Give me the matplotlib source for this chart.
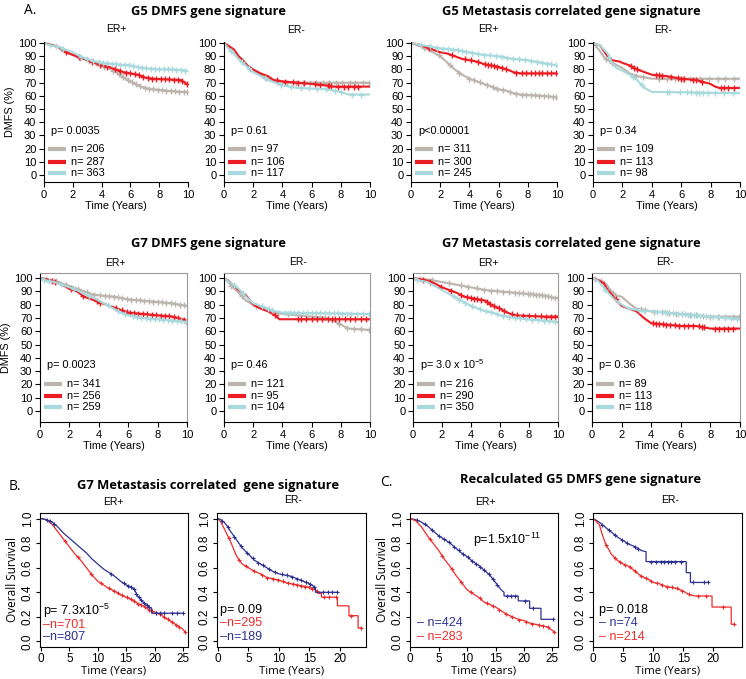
import numpy as np
import matplotlib
matplotlib.use("Agg")
from matplotlib import pyplot as plt

plt.rcParams['font.family'] = ['Liberation Sans', 'DejaVu Sans']
plt.rcParams['mathtext.default'] = 'regular'

GRAY = "#bcb5ae"
RED = "#ec1c24"
LBLUE = "#a8d9dd"
NAVY = "#2e3192"
RED3 = "#ee2b2b"

# ---- A. G5 DMFS, ER+ ----
a1_gray_t = [0, 0.5, 1, 1.5, 2, 2.5, 3, 3.5, 4, 4.5, 5, 5.5, 6, 6.5, 7, 7.5, 8.5, 9.5, 10]
a1_gray_s = [100, 99, 97, 94, 91, 89, 87, 85, 83, 81, 78, 74, 71, 68, 66, 65, 64, 63, 63]
a1_gray_c = [1.2, 2.5, 3.1, 3.6, 4.2, 4.8, 5.2, 5.5, 5.8, 6.1, 6.4, 6.7, 7.0, 7.3, 7.6, 7.9, 8.2, 8.5, 8.8, 9.1, 9.4, 9.7, 9.9]
a1_red_t = [0, 1, 1.5, 2, 2.5, 3, 3.5, 4, 4.5, 5, 5.5, 6, 6.5, 7, 7.5, 9.5, 9.9, 10]
a1_red_s = [100, 97, 93, 91, 89, 87, 85, 83, 82, 80, 78, 77, 76, 74, 73, 72, 69, 69]
a1_red_c = [1.5, 2.4, 3.3, 3.9, 4.4, 4.9, 5.3, 5.7, 6.0, 6.3, 6.6, 6.9, 7.2, 7.5, 7.8, 8.1, 8.4, 8.7, 9.0, 9.3, 9.6, 9.9]
a1_blue_t = [0, 0.5, 1, 1.5, 2, 2.5, 3, 3.5, 4, 5, 6, 7, 8, 9, 10]
a1_blue_s = [100, 98, 97, 95, 93, 90, 88, 86, 85, 84, 83, 81, 80, 80, 79]
a1_blue_c = [0.4, 0.8, 1.3, 2.6, 3.0, 3.4, 3.8, 4.1, 4.4, 4.7, 5.0, 5.3, 5.6, 5.9, 6.2, 6.5, 6.8, 7.1, 7.4, 7.7, 8.0, 8.3, 8.6, 8.9, 9.2, 9.5, 9.8]

# ---- A. G5 DMFS, ER- ----
a2_gray_t = [0, 0.3, 0.7, 1, 1.5, 2, 2.5, 3, 3.5, 4, 10]
a2_gray_s = [100, 97, 92, 88, 83, 79, 76, 73, 71, 70, 70]
a2_gray_c = [1.8, 2.9, 3.6, 4.3, 4.9, 5.4, 5.9, 6.3, 6.8, 7.2, 7.7, 8.1, 8.6, 9.0, 9.5, 9.9]
a2_red_t = [0, 0.3, 0.7, 1, 1.3, 1.6, 2, 2.5, 3, 3.4, 4, 5, 6, 7, 7.5, 10]
a2_red_s = [100, 98, 95, 90, 87, 83, 80, 77, 75, 72, 71, 70, 69, 68, 67, 67]
a2_red_c = [3.6, 4.2, 4.7, 5.1, 5.5, 6.2, 6.6, 7.1, 7.2, 7.3, 7.8, 8.2, 8.5, 8.9, 9.2]
a2_blue_t = [0, 0.3, 0.7, 1, 1.5, 2, 2.5, 3, 3.5, 4, 5, 7, 8, 8.5, 10]
a2_blue_s = [100, 96, 92, 88, 83, 78, 75, 72, 70, 68, 66, 65, 63, 61, 61]
a2_blue_c = [0.5, 1.2, 1.7, 2.8, 3.9, 4.6, 5.3, 5.8, 6.4, 7.0, 7.6, 8.0, 8.8, 9.4]

# ---- A. G5 Metastasis, ER+ ----
a3_gray_t = [0, 0.5, 1, 1.5, 2, 2.5, 3, 3.5, 4, 4.5, 5, 5.5, 6, 6.5, 7, 7.5, 9, 10]
a3_gray_s = [100, 98, 96, 93, 90, 85, 80, 76, 73, 71, 69, 67, 65, 64, 62, 61, 60, 59]
a3_gray_c = [0.9, 1.9, 2.7, 3.3, 4.0, 4.3, 4.7, 5.2, 5.6, 5.9, 6.3, 6.8, 7.2, 7.6, 7.9, 8.2, 8.5, 8.8, 9.1, 9.4, 9.7, 9.9]
a3_red_t = [0, 0.5, 1, 1.5, 2, 2.5, 3, 3.5, 4, 4.5, 5, 5.5, 6, 6.8, 7, 7.5, 10]
a3_red_s = [100, 99, 97, 95, 93, 92, 90, 88, 87, 86, 84, 83, 82, 79, 78, 77, 77]
a3_red_c = [1.2, 2.8, 3.7, 4.1, 4.6, 5.1, 5.3, 5.5, 5.7, 5.9, 6.2, 6.5, 7.2, 7.6, 7.9, 8.2, 8.5, 8.8, 9.0, 9.3, 9.6, 9.9]
a3_blue_t = [0, 0.5, 1, 1.5, 2, 3, 4, 5, 6, 7, 8, 9, 10]
a3_blue_s = [100, 99, 98, 97, 96, 95, 93, 91, 90, 88, 87, 85, 83]
a3_blue_c = [0.7, 1.3, 1.8, 2.2, 2.5, 2.9, 3.2, 3.5, 3.8, 4.2, 4.6, 5.0, 5.4, 5.8, 6.2, 6.6, 7.0, 7.4, 7.8, 8.2, 8.6, 9.0, 9.3, 9.6, 9.9]

# ---- A. G5 Metastasis, ER- ----
a4_gray_t = [0, 0.4, 0.7, 1, 1.5, 2, 2.5, 3, 3.5, 4, 10]
a4_gray_s = [100, 95, 90, 87, 84, 81, 77, 75, 74, 73, 73]
a4_gray_c = [0.9, 1.3, 2.9, 3.4, 4.5, 5.0, 5.6, 6.1, 6.6, 7.3, 7.9, 8.5, 9.0, 9.6]
a4_red_t = [0, 0.5, 0.8, 1, 1.3, 1.8, 2, 2.5, 3, 3.5, 4, 5, 6, 7, 8, 8.3, 8.6, 10]
a4_red_s = [100, 98, 93, 90, 87, 86, 85, 83, 80, 78, 76, 75, 73, 72, 69, 67, 66, 66]
a4_red_c = [2.6, 2.8, 3.0, 4.3, 4.5, 4.7, 5.3, 5.8, 6.0, 6.2, 6.8, 7.0, 7.4, 8.7, 8.9, 9.2, 9.6]
a4_blue_t = [0, 0.5, 1, 1.3, 1.6, 2, 2.5, 3, 3.5, 4, 10]
a4_blue_s = [100, 98, 92, 85, 81, 79, 76, 72, 66, 63, 62]
a4_blue_c = [1.1, 2.7, 3.3, 5.0, 5.2, 5.9, 6.4, 6.7, 7.0, 7.2, 7.5, 7.8, 8.3, 8.9, 9.5]

# ---- A. G7 DMFS, ER+ ----
b1_gray_t = [0, 0.5, 1, 1.5, 2, 2.5, 3, 3.5, 4, 5, 6, 7, 8, 9, 10]
b1_gray_s = [100, 99, 98, 96, 94, 92, 90, 88, 87, 86, 84, 83, 82, 81, 79]
b1_gray_c = [0.4, 1.1, 1.8, 2.6, 3.2, 3.7, 4.1, 4.4, 4.7, 5.0, 5.3, 5.6, 5.9, 6.2, 6.5, 6.8, 7.1, 7.4, 7.7, 8.0, 8.3, 8.6, 8.9, 9.2, 9.5, 9.8]
b1_red_t = [0, 0.5, 1, 1.5, 2, 2.5, 3, 3.5, 4, 4.5, 5, 5.5, 6, 7, 8, 9, 9.7, 10]
b1_red_s = [100, 99, 97, 95, 92, 90, 86, 84, 82, 80, 78, 76, 74, 73, 72, 71, 69, 68]
b1_red_c = [0.8, 1.0, 2.1, 2.9, 3.9, 4.1, 5.2, 5.6, 5.9, 6.1, 6.4, 6.7, 7.0, 7.3, 7.6, 7.9, 8.2, 8.5, 8.8, 9.1, 9.4, 9.8]
b1_blue_t = [0, 0.5, 1, 1.5, 2, 2.5, 3, 3.5, 4, 4.5, 5, 5.5, 6, 7, 8, 9, 10]
b1_blue_s = [100, 98, 97, 95, 93, 91, 88, 86, 83, 80, 77, 74, 72, 70, 69, 68, 67]
b1_blue_c = [0.3, 0.6, 1.4, 2.3, 3.3, 4.6, 5.3, 5.8, 6.3, 6.6, 6.9, 7.2, 7.5, 7.8, 8.1, 8.4, 8.7, 9.0, 9.3, 9.6, 9.9]

# ---- A. G7 DMFS, ER- ----
b2_gray_t = [0, 0.3, 0.6, 1, 1.5, 2, 2.5, 3, 3.5, 4, 5, 6, 7, 7.5, 8, 8.5, 10]
b2_gray_s = [100, 97, 93, 89, 83, 80, 78, 76, 74, 73, 72, 71, 70, 68, 65, 62, 61]
b2_gray_c = [0.5, 1.2, 2.2, 3.1, 3.7, 4.4, 5.1, 5.7, 6.3, 6.9, 7.4, 7.9, 8.4, 8.9, 9.4, 9.9]
b2_red_t = [0, 0.3, 0.7, 1, 1.5, 1.8, 2, 2.5, 3, 3.5, 3.8, 10]
b2_red_s = [100, 98, 94, 91, 87, 83, 80, 77, 75, 72, 69, 69]
b2_red_c = [3.5, 5.1, 5.3, 5.6, 6.0, 6.4, 6.7, 7.1, 7.4, 7.6, 7.9, 8.3, 8.6, 9.0, 9.4, 9.7]
b2_blue_t = [0, 0.5, 1, 1.5, 2, 2.5, 3, 3.5, 4, 10]
b2_blue_s = [100, 96, 92, 86, 81, 79, 77, 75, 74, 73]
b2_blue_c = [0.7, 1.3, 2.6, 3.0, 3.3, 4.2, 4.5, 4.8, 5.1, 5.4, 5.7, 6.0, 6.3, 6.6, 6.9, 7.2, 7.5, 7.8, 8.1, 8.4, 8.7, 9.1, 9.5, 9.9]

# ---- A. G7 Metastasis, ER+ ----
b3_gray_t = [0, 1, 2, 3, 4, 5, 6, 7, 8, 9, 9.8, 10]
b3_gray_s = [100, 99, 97, 95, 93, 91, 90, 89, 88, 87, 85, 85]
b3_gray_c = [0.5, 1.3, 2.5, 3.3, 3.8, 4.4, 4.9, 5.4, 5.8, 6.2, 6.6, 7.0, 7.3, 7.6, 7.9, 8.1, 8.3, 8.5, 8.7, 8.9, 9.1, 9.3, 9.5, 9.8]
b3_red_t = [0, 0.5, 1, 1.5, 2, 2.5, 3, 3.5, 4, 4.5, 5, 5.5, 6, 6.5, 7, 9, 10]
b3_red_s = [100, 99, 98, 96, 93, 91, 89, 86, 85, 84, 83, 79, 77, 74, 72, 71, 71]
b3_red_c = [0.7, 1.2, 1.9, 2.6, 3.3, 3.7, 4.0, 4.2, 4.4, 4.7, 5.1, 5.3, 5.6, 5.9, 6.3, 6.8, 7.2, 7.6, 8.0, 8.4, 8.8, 9.2, 9.5, 9.8]
b3_blue_t = [0, 0.5, 1, 1.5, 2, 2.5, 3, 3.5, 4, 4.5, 5, 5.5, 6, 7, 8, 9, 10]
b3_blue_s = [100, 98, 97, 94, 91, 88, 85, 82, 79, 77, 75, 74, 72, 70, 69, 68, 67]
b3_blue_c = [0.3, 2.8, 3.2, 3.6, 4.1, 4.6, 5.0, 5.4, 5.8, 6.2, 6.6, 7.0, 7.4, 7.8, 8.2, 8.6, 9.0, 9.4, 9.8]

# ---- A. G7 Metastasis, ER- ----
b4_gray_t = [0, 0.3, 0.8, 1, 1.3, 1.6, 2, 2.5, 3, 4, 5, 6, 7, 8, 10]
b4_gray_s = [100, 99, 97, 95, 90, 87, 86, 81, 77, 75, 74, 73, 72, 71, 71]
b4_gray_c = [0.2, 0.6, 1.4, 3.3, 3.6, 4.2, 4.7, 5.2, 5.7, 6.1, 6.6, 7.0, 7.5, 8.0, 8.5, 9.0, 9.5, 9.9]
b4_red_t = [0, 0.5, 0.8, 1, 1.3, 1.6, 2, 2.5, 3, 3.5, 4, 5, 6, 7, 8, 10]
b4_red_s = [100, 98, 96, 92, 88, 84, 79, 77, 75, 70, 66, 65, 64, 64, 62, 62]
b4_red_c = [1.6, 4.1, 4.3, 4.5, 4.8, 5.0, 5.3, 5.6, 5.9, 6.2, 6.5, 6.8, 7.2, 7.4, 7.6, 8.3, 8.6, 8.9, 9.2, 9.5]
b4_blue_t = [0, 0.4, 0.7, 1, 1.5, 2, 2.5, 3, 4, 5, 6, 7, 8, 9, 10]
b4_blue_s = [100, 98, 94, 90, 84, 80, 77, 76, 75, 74, 73, 72, 71, 70, 69]
b4_blue_c = [0.9, 3.2, 3.5, 4.4, 4.9, 5.1, 5.5, 5.8, 6.1, 6.3, 6.5, 6.7, 6.9, 7.1, 7.3, 7.7, 8.2, 8.6, 9.0, 9.4, 9.8]

# ---- B. G7 Metastasis overall survival ----
c1_red_t = [0, 1, 2, 3, 4, 5, 6, 7, 8, 9, 10, 11, 12, 13, 14, 15, 16, 17, 18, 19, 20, 21, 22, 23, 24, 25, 25.3]
c1_red_s = [1, 0.99, 0.95, 0.89, 0.83, 0.77, 0.71, 0.66, 0.60, 0.54, 0.49, 0.46, 0.43, 0.41, 0.38, 0.36, 0.34, 0.31, 0.29, 0.26, 0.24, 0.22, 0.19, 0.16, 0.13, 0.10, 0.08]
c1_red_c = [4.2, 6.5, 8.8, 10.6, 11.9, 12.8, 13.6, 14.3, 15.1, 15.8, 16.4, 17.1, 17.7, 18.4, 19.0, 19.6, 20.3, 21.0, 21.6, 22.3, 23.1, 23.8, 24.4, 25.3]
c1_blue_t = [0, 1, 2, 3, 4, 5, 6, 7, 8, 9, 10, 11, 12, 13, 14, 15, 16, 16.5, 17, 18, 19, 19.5, 19.5, 25]
c1_blue_s = [1, 0.99, 0.97, 0.93, 0.88, 0.84, 0.80, 0.76, 0.72, 0.67, 0.63, 0.59, 0.56, 0.53, 0.49, 0.46, 0.44, 0.42, 0.37, 0.32, 0.28, 0.27, 0.23, 0.23]
c1_blue_c = [1.0, 1.5, 2.3, 12.4, 14.6, 15.3, 15.9, 16.3, 16.8, 17.2, 17.6, 18.1, 18.6, 19.1, 20.2, 20.9, 21.6, 23.0, 24.0, 25.0]
c2_red_t = [0, 0.5, 1, 1.5, 2, 2.5, 3, 3.5, 4, 5, 6, 7, 8, 9, 10, 11, 12, 13, 14, 15, 16, 16.5, 17, 17, 19.6, 19.6, 21.5, 21.5, 23, 23, 23.5]
c2_red_s = [1, 0.97, 0.92, 0.87, 0.82, 0.76, 0.70, 0.66, 0.63, 0.60, 0.57, 0.55, 0.52, 0.51, 0.50, 0.48, 0.47, 0.46, 0.45, 0.44, 0.42, 0.39, 0.39, 0.36, 0.36, 0.29, 0.29, 0.21, 0.21, 0.11, 0.11]
c2_red_c = [1.8, 3.5, 4.6, 5.9, 7.2, 8.1, 9.0, 9.8, 10.6, 11.5, 12.3, 13.0, 13.7, 14.3, 14.9, 15.5, 16.2, 17.4, 18.3, 19.3, 21.9, 23.5]
c2_blue_t = [0, 0.5, 1, 1.5, 2, 3, 4, 5, 6, 7, 8, 9, 10, 11, 12, 13, 14, 15, 16, 16, 19.5]
c2_blue_s = [1, 0.99, 0.97, 0.94, 0.90, 0.83, 0.76, 0.71, 0.66, 0.63, 0.60, 0.57, 0.55, 0.54, 0.53, 0.51, 0.49, 0.47, 0.44, 0.40, 0.40]
c2_blue_c = [0.7, 1.6, 2.7, 3.8, 4.8, 5.7, 6.6, 7.4, 8.3, 9.4, 10.5, 11.3, 12.1, 12.9, 13.6, 14.4, 15.1, 15.8, 17.2, 18.0, 18.8, 19.5]

# ---- C. Recalculated G5 DMFS overall survival ----
c3_blue_t = [0, 1, 2, 3, 4, 5, 6, 7, 8, 9, 10, 11, 12, 13, 14, 15, 16, 16.5, 16.5, 19, 19, 21, 21, 23, 23, 25.3]
c3_blue_s = [1, 0.99, 0.97, 0.94, 0.90, 0.86, 0.83, 0.80, 0.76, 0.72, 0.69, 0.65, 0.62, 0.58, 0.54, 0.48, 0.42, 0.40, 0.37, 0.37, 0.33, 0.33, 0.27, 0.27, 0.18, 0.18]
c3_blue_c = [1.2, 2.6, 3.9, 5.1, 6.0, 6.8, 7.7, 8.5, 9.3, 10.1, 10.8, 11.6, 12.3, 13.0, 13.8, 14.5, 15.3, 17.1, 17.7, 18.4, 20.2, 21.6, 25.2]
c3_red_t = [0, 1, 2, 3, 4, 5, 6, 7, 8, 9, 10, 11, 12, 13, 14, 15, 16, 17, 18, 19, 20, 21, 22, 23, 24, 25, 25.3]
c3_red_s = [1, 0.98, 0.93, 0.86, 0.80, 0.74, 0.67, 0.61, 0.54, 0.48, 0.42, 0.39, 0.36, 0.32, 0.30, 0.28, 0.25, 0.22, 0.20, 0.18, 0.17, 0.15, 0.14, 0.13, 0.12, 0.09, 0.08]
c3_red_c = [3.4, 5.6, 7.3, 8.9, 10.7, 12.2, 13.5, 14.6, 15.7, 16.8, 17.9, 19.2, 20.4, 21.5, 22.6, 23.4, 24.2, 25.3]
c4_blue_t = [0, 1, 2, 3, 4, 5, 6, 7, 8, 8.8, 8.8, 15.5, 15.5, 16.2, 16.2, 19.2]
c4_blue_s = [1, 0.97, 0.93, 0.89, 0.85, 0.82, 0.79, 0.77, 0.74, 0.73, 0.65, 0.65, 0.56, 0.56, 0.48, 0.48]
c4_blue_c = [1.5, 2.6, 3.7, 4.8, 5.6, 6.9, 7.5, 9.6, 10.5, 11.3, 11.8, 12.4, 13.0, 13.7, 14.6, 16.6, 18.4, 19.2]
c4_red_t = [0, 1, 1.5, 2, 3, 4, 5, 6, 7, 8, 9, 10, 11, 12, 13, 14, 15, 16, 17, 19.8, 19.8, 23, 23, 23.4]
c4_red_s = [1, 0.95, 0.87, 0.80, 0.71, 0.66, 0.63, 0.61, 0.57, 0.53, 0.51, 0.48, 0.47, 0.45, 0.44, 0.43, 0.41, 0.38, 0.37, 0.37, 0.28, 0.28, 0.14, 0.14]
c4_red_c = [2.2, 3.6, 4.5, 5.3, 6.1, 7.0, 7.9, 8.8, 9.7, 10.6, 11.4, 12.3, 13.1, 13.9, 14.8, 15.9, 17.4, 18.8, 21.6, 23.4]


W, H = 746, 679
fig = plt.figure(figsize=(W / 100, H / 100), dpi=100)


def add_ax(l, t, r, b):
    return fig.add_axes([l / W, 1 - b / H, (r - l) / W, (b - t) / H])


def km(ax, t, s, cens, color, lw, ms, mew):
    ax.plot(t, s, color=color, lw=lw, solid_joinstyle="miter")
    c = np.asarray(cens)
    ax.plot(c, np.interp(c, t, s), ls="none", marker="+", color=color, ms=ms, mew=mew)


def dmfs_panel(box, curves, pval, ns, boxed):
    ax = add_ax(*box)
    for t, s, c, col in curves:
        km(ax, t, s, c, col, 1.5, 5, 1.0)
    ax.set_xlim(0, 10)
    if boxed:
        ax.set_ylim(-8.3, 103.8)
        for sp in ("top", "right"):
            ax.spines[sp].set_color("#9a9a9a")
        leg_y = [20, 11.5, 3]
        p_y = 34.5
    else:
        ax.set_ylim(-5.3, 100.8)
        ax.spines["top"].set_visible(False)
        ax.spines["right"].set_visible(False)
        leg_y = [19.5, 10, 1.3]
        p_y = 33.5
    ax.set_xticks([0, 2, 4, 6, 8, 10])
    ax.set_yticks(range(0, 101, 10))
    ax.tick_params(direction="out", length=3.5, width=0.8, labelsize=8, pad=2)
    for sp in ax.spines.values():
        sp.set_linewidth(0.8)
    ax.text(0.5, p_y, pval, fontsize=7.8, va="center")
    for (t, s, c, col), n, y in zip(curves, ns, leg_y):
        ax.plot([0.3, 1.5], [y, y], color=col, lw=3, solid_capstyle="butt")
        ax.text(1.85, y, "n= " + n, fontsize=7.8, va="center")
    ax.set_xlabel("Time (Years)", fontsize=7.8, labelpad=1)
    return ax


# Row 1
ax = dmfs_panel((44, 42, 188, 182),
                [(a1_gray_t, a1_gray_s, a1_gray_c, GRAY), (a1_red_t, a1_red_s, a1_red_c, RED),
                 (a1_blue_t, a1_blue_s, a1_blue_c, LBLUE)], "p= 0.0035", ["206", "287", "363"], False)
ax.set_ylabel("DMFS (%)", fontsize=7.8, labelpad=2)
dmfs_panel((224, 42, 370, 182),
           [(a2_gray_t, a2_gray_s, a2_gray_c, GRAY), (a2_red_t, a2_red_s, a2_red_c, RED),
            (a2_blue_t, a2_blue_s, a2_blue_c, LBLUE)], "p= 0.61", ["97", "106", "117"], False)
dmfs_panel((411, 42, 557, 182),
           [(a3_gray_t, a3_gray_s, a3_gray_c, GRAY), (a3_red_t, a3_red_s, a3_red_c, RED),
            (a3_blue_t, a3_blue_s, a3_blue_c, LBLUE)], "p<0.00001", ["311", "300", "245"], False)
dmfs_panel((593, 42, 740, 182),
           [(a4_gray_t, a4_gray_s, a4_gray_c, GRAY), (a4_red_t, a4_red_s, a4_red_c, RED),
            (a4_blue_t, a4_blue_s, a4_blue_c, LBLUE)], "p= 0.34", ["109", "113", "98"], False)

# Row 2
ax = dmfs_panel((40, 273, 187, 422),
                [(b1_gray_t, b1_gray_s, b1_gray_c, GRAY), (b1_red_t, b1_red_s, b1_red_c, RED),
                 (b1_blue_t, b1_blue_s, b1_blue_c, LBLUE)], "p= 0.0023", ["341", "256", "259"], True)
ax.set_ylabel("DMFS (%)", fontsize=7.8, labelpad=2)
dmfs_panel((224, 273, 370, 422),
           [(b2_gray_t, b2_gray_s, b2_gray_c, GRAY), (b2_red_t, b2_red_s, b2_red_c, RED),
            (b2_blue_t, b2_blue_s, b2_blue_c, LBLUE)], "p= 0.46", ["121", "95", "104"], True)
dmfs_panel((413, 273, 558, 422),
           [(b3_gray_t, b3_gray_s, b3_gray_c, GRAY), (b3_red_t, b3_red_s, b3_red_c, RED),
            (b3_blue_t, b3_blue_s, b3_blue_c, LBLUE)], "p= 3.0 x 10$^{-5}$", ["216", "290", "350"], True)
dmfs_panel((592, 273, 740, 422),
           [(b4_gray_t, b4_gray_s, b4_gray_c, GRAY), (b4_red_t, b4_red_s, b4_red_c, RED),
            (b4_blue_t, b4_blue_s, b4_blue_c, LBLUE)], "p= 0.36", ["89", "113", "118"], True)


def os_panel(box, xlim, xticks, curves):
    ax = add_ax(*box)
    for t, s, c, col in curves:
        km(ax, t, s, c, col, 0.9, 3, 0.8)
    ax.set_xlim(*xlim)
    ax.set_ylim(-0.045, 1.045)
    ax.set_xticks(xticks)
    ax.set_yticks([0, 0.2, 0.4, 0.6, 0.8, 1.0])
    ax.set_yticklabels(["0.0", "0.2", "0.4", "0.6", "0.8", "1.0"], rotation=90, va="center")
    ax.tick_params(direction="out", length=3, width=0.8, labelsize=8.5, pad=1.5)
    for sp in ax.spines.values():
        sp.set_linewidth(0.8)
    ax.set_xlabel("Time (Years)", fontsize=8.2, labelpad=0, family="Open Sans")
    return ax


ax = os_panel((40, 513, 188, 647), (-0.18, 25.9), [0, 5, 10, 15, 20, 25],
              [(c1_red_t, c1_red_s, c1_red_c, RED3), (c1_blue_t, c1_blue_s, c1_blue_c, NAVY)])
ax.set_ylabel("Overall Survival", fontsize=8.5, family="Open Sans", labelpad=2)
ax.text(0.3, 0.245, "p= 7.3x10$^{-5}$", fontsize=9, va="center")
ax.text(0.3, 0.135, "\u2013n=701", fontsize=9, va="center", color=RED3)
ax.text(0.3, 0.035, "\u2013n=807", fontsize=9, va="center", color=NAVY)

ax = os_panel((217, 513, 366, 647), (-0.16, 24.3), [0, 5, 10, 15, 20],
              [(c2_red_t, c2_red_s, c2_red_c, RED3), (c2_blue_t, c2_blue_s, c2_blue_c, NAVY)])
ax.text(0.4, 0.26, "p= 0.09", fontsize=9, va="center")
ax.text(0.4, 0.15, "\u2013n=295", fontsize=9, va="center", color=RED3)
ax.text(0.4, 0.04, "\u2013n=189", fontsize=9, va="center", color=NAVY)

ax = os_panel((410, 513, 558, 647), (-0.05, 26.0), [0, 5, 10, 15, 20, 25],
              [(c3_blue_t, c3_blue_s, c3_blue_c, NAVY), (c3_red_t, c3_red_s, c3_red_c, RED3)])
ax.set_ylabel("Overall Survival", fontsize=8.5, family="Open Sans", labelpad=2)
ax.text(11.0, 0.83, "p=1.5x10$^{-11}$", fontsize=9, va="center")
ax.text(1.1, 0.15, "\u2013 n=424", fontsize=9, va="center", color=NAVY)
ax.text(1.1, 0.04, "\u2013 n=283", fontsize=9, va="center", color=RED3)

ax = os_panel((593, 513, 742, 647), (-0.05, 24.8), [0, 5, 10, 15, 20],
              [(c4_blue_t, c4_blue_s, c4_blue_c, NAVY), (c4_red_t, c4_red_s, c4_red_c, RED3)])
ax.text(1.0, 0.26, "p= 0.018", fontsize=9, va="center")
ax.text(1.0, 0.15, "\u2013 n=74", fontsize=9, va="center", color=NAVY)
ax.text(1.0, 0.04, "\u2013 n=214", fontsize=9, va="center", color=RED3)


def ftext(x, y, s, **kw):
    fig.text(x / W, 1 - y / H, s, **kw)


title_kw = dict(family="Open Sans", weight="bold", fontsize=9.3, ha="center", va="center")
ftext(208, 12, "G5 DMFS gene signature", **title_kw)
ftext(571, 12, "G5 Metastasis correlated gene signature", **title_kw)
ftext(208, 243, "G7 DMFS gene signature", **title_kw)
ftext(571, 243, "G7 Metastasis correlated gene signature", **title_kw)
ftext(208, 485, "G7 Metastasis correlated  gene signature", **title_kw)
ftext(581, 480, "Recalculated G5 DMFS gene signature", **title_kw)

sub_kw = dict(fontsize=7.5, ha="center", va="center")
ftext(116, 29, "ER+", **sub_kw)
ftext(296, 30, "ER-", **sub_kw)
ftext(488, 29, "ER+", **sub_kw)
ftext(663, 30, "ER-", **sub_kw)
ftext(115, 263, "ER+", **sub_kw)
ftext(298, 262, "ER-", **sub_kw)
ftext(488, 263, "ER+", **sub_kw)
ftext(665, 262, "ER-", **sub_kw)
ftext(113, 502, "ER+", **sub_kw)
ftext(293, 500, "ER-", **sub_kw)
ftext(485, 502, "ER+", **sub_kw)
ftext(670, 500, "ER-", **sub_kw)

lab_kw = dict(family="Open Sans", fontsize=10, ha="left", va="center")
ftext(24, 10, "A.", **lab_kw)
ftext(9, 487, "B.", **lab_kw)
ftext(380, 482, "C.", **lab_kw)

fig.savefig("out.png", dpi=100)
